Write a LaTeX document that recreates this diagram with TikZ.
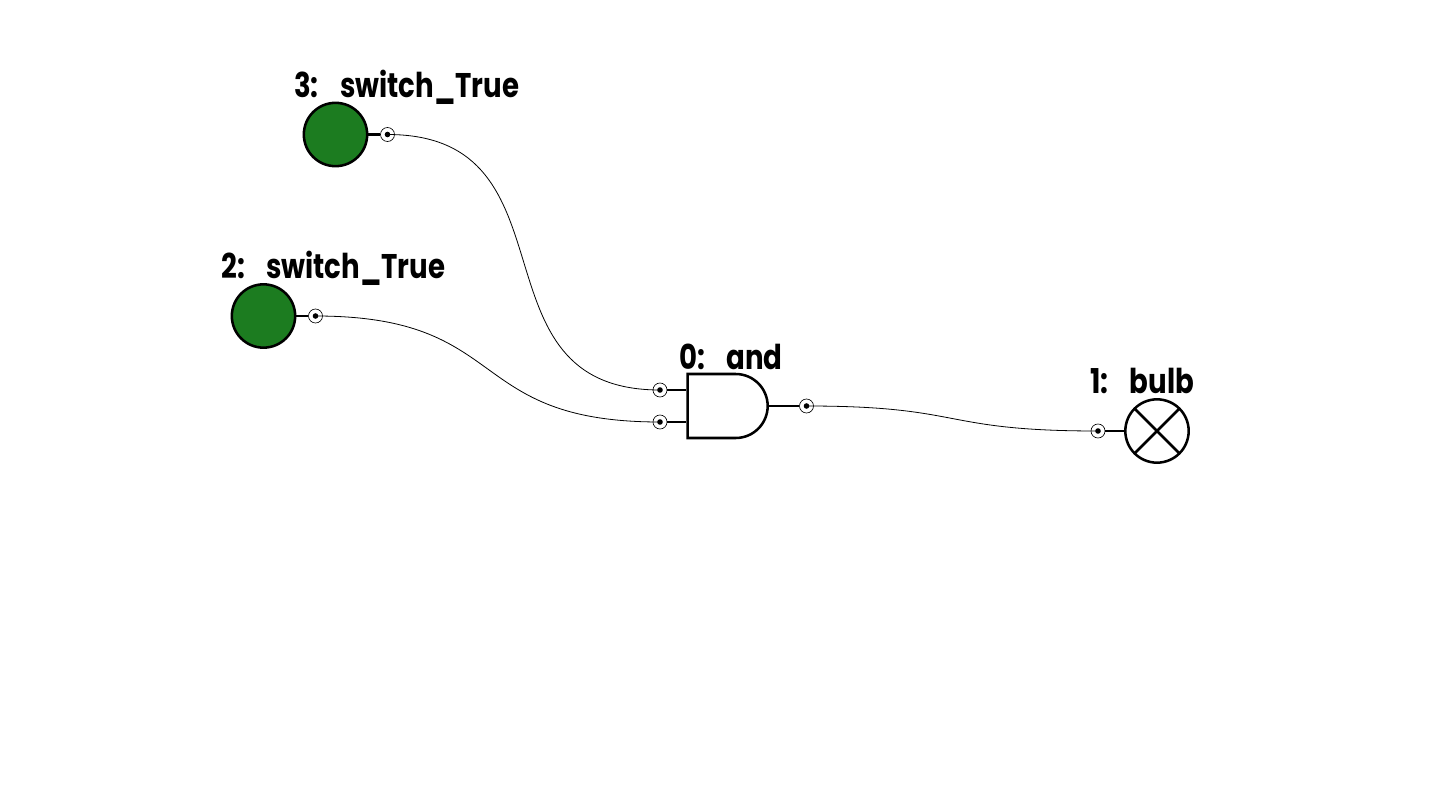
\documentclass[tikz,border=0pt]{standalone}
\usepackage{fontspec}
\setmainfont{Poppins}
\usetikzlibrary{shapes.gates.logic.US}
\definecolor{switchgreen}{RGB}{28,124,32}
\newcommand{\namelabel}[2]{\scalebox{1}[1.24]{#1:\hspace{16pt}#2}}
\tikzset{
	partline/.style={line width=1.9pt},
	wireline/.style={line width=0.6pt},
	switchnode/.style={circle, draw, partline, fill=switchgreen, minimum size=47.5pt, inner sep=0pt},
	bulbnode/.style={circle, draw, partline, minimum size=47.5pt, inner sep=0pt, path picture={
		\draw [partline] (path picture bounding box.north west) -- (path picture bounding box.south east);
		\draw [partline] (path picture bounding box.north east) -- (path picture bounding box.south west);}},
	gatenode/.style={and gate US, draw, partline, logic gate inputs=nn, minimum height=46pt, minimum width=60pt, inner sep=0pt},
	pinnode/.style={circle, draw, line width=0.5pt, minimum size=10.5pt, inner sep=0pt},
	namenode/.style={font=\fontsize{20.7}{22}\selectfont\bfseries, inner sep=0pt, anchor=base west}
}
\begin{document}
\begin{tikzpicture}[x=0.75pt, y=-0.75pt]
	\useasboundingbox (0,0) rectangle (1440,810);
	%Parts
	\node [switchnode] (switch3) at (335.5,134.5) {};
	\node [switchnode] (switch2) at (263.5,316) {};
	\node [gatenode] (gate0) at (725,406) {};
	\node [bulbnode] (bulb1) at (1157,431) {};
	%Pins
	\node [pinnode] (pin3) at (387.5,134.5) {};
	\node [pinnode] (pin2) at (315.5,316) {};
	\node [pinnode] (pinA) at (660,390) {};
	\node [pinnode] (pinB) at (660,422) {};
	\node [pinnode] (pinO) at (806.5,406) {};
	\node [pinnode] (pin1) at (1098,431) {};
	\foreach \p in {pin3,pin2,pinA,pinB,pinO,pin1}
		\fill (\p) circle (2.8);
	%Stubs
	\draw [partline] (switch3) -- (pin3);
	\draw [partline] (switch2) -- (pin2);
	\draw [partline] (pinA) -- (pinA -| gate0.west);
	\draw [partline] (pinB) -- (pinB -| gate0.west);
	\draw [partline] (gate0.east) -- (pinO);
	\draw [partline] (pin1) -- (bulb1);
	%Wires
	\draw [wireline] (pin3.center) to[out=0,in=180,looseness=1.33] (pinA.center);
	\draw [wireline] (pin2.center) to[out=0,in=180,looseness=1.4] (pinB.center);
	\draw [wireline] (pinO.center) to[out=0,in=180,looseness=1.4] (pin1.center);
	%Labels
	\node [namenode] (name3) at (294,97) {\namelabel{3}{switch\_True}};
	\node [namenode] (name2) at (221,278) {\namelabel{2}{switch\_True}};
	\node [namenode] (name0) at (679,369) {\namelabel{0}{and}};
	\node [namenode] (name1) at (1090,393) {\namelabel{1}{bulb}};
\end{tikzpicture}
\end{document}
